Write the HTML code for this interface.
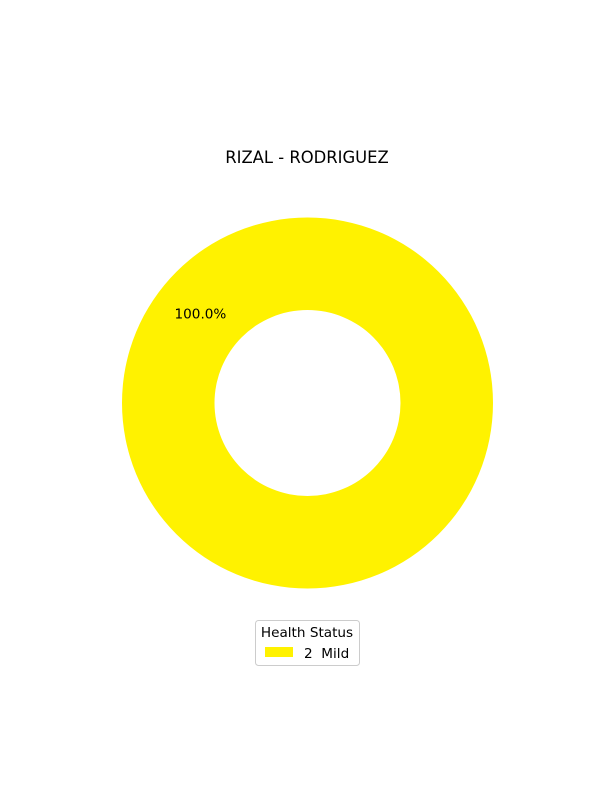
<!DOCTYPE html>
<html><head><meta charset="utf-8"><style>
body{margin:0;background:#fff;}
svg text{font-family:"DejaVu Sans","Liberation Sans",sans-serif;white-space:pre;}
</style></head><body>
<svg id="chart" width="600" height="800">
<text x="307" y="163" text-anchor="middle" font-size="16.4">RIZAL - RODRIGUEZ</text>
<g id="slices"></g>
<g>
<rect x="255.5" y="620.5" width="104" height="45" rx="3" fill="#fff" stroke="#ccc"/>
<text x="307" y="637" text-anchor="middle" font-size="13.6">Health Status</text>
<rect id="legSw" x="265" y="647" width="28" height="10" fill="#FFF200"/>
<text id="legTx" x="304" y="658" font-size="13.6" xml:space="preserve"></text>
</g>
</svg>
<script>
const categories = ['2  Mild'];
const values = [1];
const colors = ['#FFF200'];
const cx=307.5, cy=403, R=185.5, r=93, startDeg=-40;
const g=document.getElementById('slices');
const total=values.reduce((a,b)=>a+b,0);
function pt(rad,deg){const a=deg*Math.PI/180;return [cx+rad*Math.cos(a), cy-rad*Math.sin(a)];}
function arcPath(a0,a1){
  if(a1-a0>=359.999){
    return `M${cx+R},${cy}A${R},${R} 0 1 0 ${cx-R},${cy}A${R},${R} 0 1 0 ${cx+R},${cy}Z M${cx+r},${cy}A${r},${r} 0 1 1 ${cx-r},${cy}A${r},${r} 0 1 1 ${cx+r},${cy}Z`;
  }
  const [x0,y0]=pt(R,a0),[x1,y1]=pt(R,a1),[x2,y2]=pt(r,a1),[x3,y3]=pt(r,a0);
  const lg=(a1-a0)>180?1:0;
  return `M${x0},${y0}A${R},${R} 0 ${lg} 0 ${x1},${y1}L${x2},${y2}A${r},${r} 0 ${lg} 1 ${x3},${y3}Z`;
}
let acc=startDeg;
values.forEach((v,i)=>{
  const span=v/total*360;
  const p=document.createElementNS('http://www.w3.org/2000/svg','path');
  p.setAttribute('d',arcPath(acc,acc+span));
  p.setAttribute('fill',colors[i]);
  p.setAttribute('fill-rule','evenodd');
  
  
  g.appendChild(p);
  const [lx,ly]=pt(R*0.75,acc+span/2);
  const t=document.createElementNS('http://www.w3.org/2000/svg','text');
  t.setAttribute('x',lx-0.5);t.setAttribute('y',ly+5);
  t.setAttribute('text-anchor','middle');t.setAttribute('font-size','13.6');
  t.textContent=(v/total*100).toFixed(1)+'%';
  
  
  g.appendChild(t);
  acc+=span;
});
document.getElementById('legTx').textContent=categories[0];
</script>
</body></html>
